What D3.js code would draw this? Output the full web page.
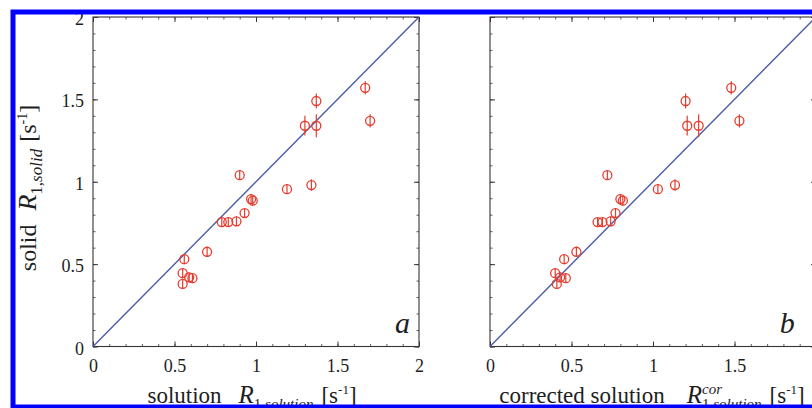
<!DOCTYPE html>
<html>
<head>
<meta charset="utf-8">
<script src="https://cdn.jsdelivr.net/npm/d3@7"></script>
<style>
  body { margin: 0; background: #fff; }
  svg { display: block; font-family: "Liberation Serif", "Times New Roman", serif; }
</style>
</head>
<body>
<div id="chart"></div>
<script>
// R1 values (s^-1)
const solutionR1  = [1.67, 1.37, 1.30, 1.37, 1.70, 0.90, 1.19, 1.34, 0.97, 0.98, 0.93, 0.79, 0.83, 0.88, 0.70, 0.56, 0.55, 0.59, 0.61, 0.55];
const correctedR1 = [1.48, 1.20, 1.21, 1.28, 1.53, 0.72, 1.03, 1.135, 0.80, 0.815, 0.77, 0.66, 0.69, 0.74, 0.53, 0.455, 0.40, 0.43, 0.465, 0.41];
const solidR1     = [1.57, 1.49, 1.34, 1.34, 1.37, 1.04, 0.955, 0.98, 0.895, 0.885, 0.81, 0.755, 0.755, 0.76, 0.575, 0.53, 0.445, 0.42, 0.415, 0.38];
const solidErr    = [0.04, 0.045, 0.06, 0.07, 0.04, 0.03, 0.03, 0.035, 0.03, 0.03, 0.03, 0.03, 0.03, 0.03, 0.03, 0.03, 0.03, 0.03, 0.03, 0.03];

const tickValues  = [0, 0.5, 1, 1.5, 2];
const tickLabels  = ["0", "0.5", "1", "1.5", "2"];
const minorTicks  = d3.range(0, 21).map(i => i / 10);
const axisDomain  = [0, 2];

const width = 812, height = 408;
const plotTop = 17, plotBottom = 346.5, plotW = 326;

const red = "#e63c2e", blue = "#4b5bab", ink = "#3b3434";

const panels = [
	{ xs: solutionR1,  left: 93,  yLabels: true,  letter: "a", letterAt: 1.945 },
	{ xs: correctedR1, left: 490, yLabels: false, letter: "b", letterAt: 1.87 }
];

const svg = d3.select("#chart").append("svg")
	.attr("width", width)
	.attr("height", height);

svg.append("rect").attr("width", width).attr("height", height).attr("fill", "#fff");

const y = d3.scaleLinear().domain(axisDomain).range([plotBottom, plotTop]);

panels.forEach(p => {
	const x = d3.scaleLinear().domain(axisDomain).range([p.left, p.left + plotW]);
	const g = svg.append("g");

	// minor ticks, all four sides, pointing inwards
	const minor = [
		[d3.axisBottom(x), `translate(0,${plotBottom})`],
		[d3.axisTop(x),    `translate(0,${plotTop})`],
		[d3.axisLeft(y),   `translate(${p.left},0)`],
		[d3.axisRight(y),  `translate(${p.left + plotW},0)`]
	];
	minor.forEach(([ax, tr]) => {
		g.append("g").attr("transform", tr)
			.call(ax.tickValues(minorTicks).tickSize(-2.5).tickFormat(""))
			.call(s => s.select(".domain").remove())
			.selectAll("line").attr("stroke", ink).attr("stroke-width", 0.8);
	});

	// major ticks + labels
	const fmt = (d, i) => tickLabels[i];
	g.append("g").attr("transform", `translate(0,${plotBottom})`)
		.call(d3.axisBottom(x).tickValues(tickValues).tickSize(-5).tickPadding(13).tickFormat(fmt))
		.call(s => s.select(".domain").remove());
	g.append("g").attr("transform", `translate(0,${plotTop})`)
		.call(d3.axisTop(x).tickValues(tickValues).tickSize(-5).tickFormat(""))
		.call(s => s.select(".domain").remove());
	g.append("g").attr("class", "yax").attr("transform", `translate(${p.left},0)`)
		.call(d3.axisLeft(y).tickValues(tickValues).tickSize(-5).tickPadding(9).tickFormat(p.yLabels ? fmt : ""))
		.call(s => s.select(".domain").remove());
	g.append("g").attr("transform", `translate(${p.left + plotW},0)`)
		.call(d3.axisRight(y).tickValues(tickValues).tickSize(-5).tickFormat(""))
		.call(s => s.select(".domain").remove());

	g.selectAll(".tick line").attr("stroke", ink);
	g.selectAll(".tick text")
		.attr("font-family", "Liberation Serif")
		.attr("font-size", 18)
		.attr("fill", "#1e1e1e");
	g.selectAll(".yax .tick text").attr("dy", "0.42em");

	// frame
	g.append("rect")
		.attr("x", x(0)).attr("y", y(2))
		.attr("width", x(2) - x(0)).attr("height", y(0) - y(2))
		.attr("fill", "none").attr("stroke", ink).attr("stroke-width", 1.1);

	// y = x line
	g.append("line")
		.attr("x1", x(0)).attr("y1", y(0))
		.attr("x2", x(2)).attr("y2", y(2))
		.attr("stroke", blue).attr("stroke-width", 1.4);

	const pts = p.xs.map((v, i) => ({ x: v, y: solidR1[i], e: solidErr[i] }));

	g.selectAll(".err").data(pts).enter().append("line")
		.attr("class", "err")
		.attr("x1", d => x(d.x)).attr("x2", d => x(d.x))
		.attr("y1", d => y(d.y - d.e)).attr("y2", d => y(d.y + d.e))
		.attr("stroke", red).attr("stroke-width", 1.2);

	g.selectAll(".pt").data(pts).enter().append("circle")
		.attr("class", "pt")
		.attr("cx", d => x(d.x)).attr("cy", d => y(d.y))
		.attr("r", 4.5)
		.attr("fill", "none").attr("stroke", red).attr("stroke-width", 1.3);

	g.append("text")
		.attr("x", x(p.letterAt)).attr("y", y(0.08))
		.attr("text-anchor", "end")
		.attr("font-style", "italic")
		.attr("font-size", 30)
		.attr("fill", "#1e1e1e")
		.text(p.letter);
});

// axis title built from tspans (sub/superscripts)
function label(parts, tx, ty, rot) {
	const t = svg.append("text")
		.attr("transform", `translate(${tx},${ty})` + (rot ? ` rotate(${rot})` : ""))
		.attr("text-anchor", "middle")
		.attr("fill", "#1e1e1e");
	parts.forEach(q => {
		const s = t.append("tspan")
			.attr("font-size", q.size)
			.attr("font-style", q.italic ? "italic" : null)
			.attr("dy", q.dy || 0)
			.text(q.t);
		if (q.dx) s.attr("dx", q.dx);
	});
	return t;
}

label([
	{ t: "solution", size: 23 },
	{ t: "R", size: 25, italic: true, dx: 17 },
	{ t: "1,", size: 15, dy: 6 },
	{ t: "solution", size: 15, italic: true },
	{ t: "[s", size: 23, dy: -6, dx: 8 },
	{ t: "-1", size: 13, dy: -9 },
	{ t: "]", size: 23, dy: 9 }
], 252, 403);

// "cor" sits above the subscript
label([
	{ t: "corrected solution", size: 23 },
	{ t: "R", size: 25, italic: true, dx: 22 },
	{ t: "cor", size: 15, italic: true, dy: -9 },
	{ t: "1,", size: 15, dy: 15, dx: -20 },
	{ t: "solution", size: 15, italic: true },
	{ t: "[s", size: 23, dy: -6, dx: 8 },
	{ t: "-1", size: 13, dy: -9 },
	{ t: "]", size: 23, dy: 9 }
], 652, 403);

label([
	{ t: "solid", size: 24 },
	{ t: "R", size: 26, italic: true, dx: 14 },
	{ t: "1,", size: 17, dy: 6 },
	{ t: "solid", size: 17, italic: true },
	{ t: "[s", size: 24, dy: -6, dx: 7 },
	{ t: "-1", size: 14, dy: -9 },
	{ t: "]", size: 24, dy: 9 }
], 36, 188, -90);

// blue frame on top of everything
svg.append("rect")
	.attr("x", 13).attr("y", 12)
	.attr("width", 830).attr("height", 395)
	.attr("fill", "none")
	.attr("stroke", "#0000ff")
	.attr("stroke-width", 5);
</script>
</body>
</html>
